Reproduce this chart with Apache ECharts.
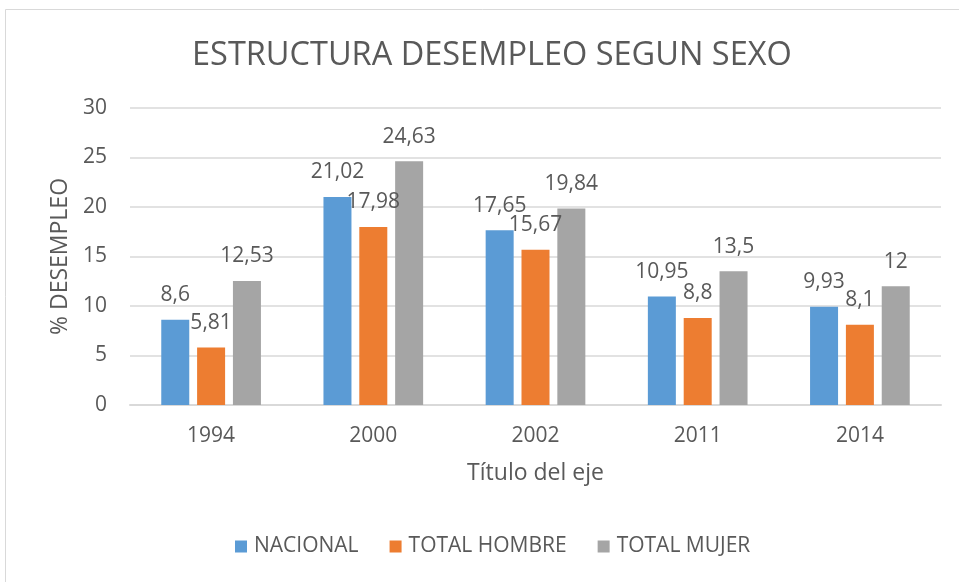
<!DOCTYPE html>
<html>
<head>
<meta charset="utf-8">
<script src="https://cdn.jsdelivr.net/npm/echarts@6/dist/echarts.min.js"></script>
<style>html,body{margin:0;padding:0;background:#fff;}#c{width:959px;height:582px;}</style>
</head>
<body>
<div id="c"></div>
<script>
const categories = ['1994', '2000', '2002', '2011', '2014'];
const nacional = [8.6, 21.02, 17.65, 10.95, 9.93];
const totalHombre = [5.81, 17.98, 15.67, 8.8, 8.1];
const totalMujer = [12.53, 24.63, 19.84, 13.5, 12];
const seriesNames = ['NACIONAL', 'TOTAL HOMBRE', 'TOTAL MUJER'];
const yTicks = { min: 0, max: 30, interval: 5 };

const FONT = 'Open Sans';
const TXT = '#595959';
const fmt = v => String(v).replace('.', ',');

function bar(name, data, color) {
  return {
    name, type: 'bar', data, barWidth: 28, barGap: '28%',
    itemStyle: { color },
    label: {
      show: true, position: 'top', distance: 14,
      fontFamily: FONT, fontSize: 21, color: TXT,
      formatter: p => fmt(p.value)
    }
  };
}

const chart = echarts.init(document.getElementById('c'), null, { renderer: 'canvas' });
chart.setOption({
  animation: false,
  backgroundColor: '#fff',
  graphic: [{
    type: 'rect', shape: { x: 5.5, y: 9.5, width: 1000, height: 1000 },
    style: { fill: 'none', stroke: '#D9D9D9', lineWidth: 1 }, silent: true, z: -1
  }],
  title: {
    text: 'ESTRUCTURA DESEMPLEO SEGUN SEXO',
    left: 187, top: 34,
    textStyle: { fontFamily: FONT, fontSize: 32.5, fontWeight: 'normal', color: TXT }
  },
  legend: {
    data: seriesNames, bottom: 20, left: 230, itemWidth: 12, itemHeight: 12, itemGap: 31,
    icon: 'rect',
    textStyle: { fontFamily: FONT, fontSize: 21, color: TXT, padding: [0, 0, 0, 2] }
  },
  grid: { left: 130, right: 18, top: 108, bottom: 177 },
  xAxis: {
    type: 'category', data: categories,
    name: 'Título del eje', nameLocation: 'middle', nameGap: 57,
    nameTextStyle: { fontFamily: FONT, fontSize: 23, color: TXT },
    axisLine: { lineStyle: { color: '#D9D9D9', width: 2 } },
    axisTick: { show: false },
    axisLabel: { fontFamily: FONT, fontSize: 21, color: TXT, margin: 21 }
  },
  yAxis: {
    type: 'value', min: yTicks.min, max: yTicks.max, interval: yTicks.interval,
    name: '% DESEMPLEO', nameLocation: 'middle', nameGap: 54,
    nameTextStyle: { fontFamily: FONT, fontSize: 23, color: TXT },
    axisLine: { show: false }, axisTick: { show: false },
    splitLine: { lineStyle: { color: '#D9D9D9', width: 1.5 } },
    axisLabel: { fontFamily: FONT, fontSize: 21, color: TXT, margin: 23 }
  },
  series: [
    bar(seriesNames[0], nacional, '#5B9BD5'),
    bar(seriesNames[1], totalHombre, '#ED7D31'),
    bar(seriesNames[2], totalMujer, '#A5A5A5')
  ]
});
</script>
</body>
</html>
